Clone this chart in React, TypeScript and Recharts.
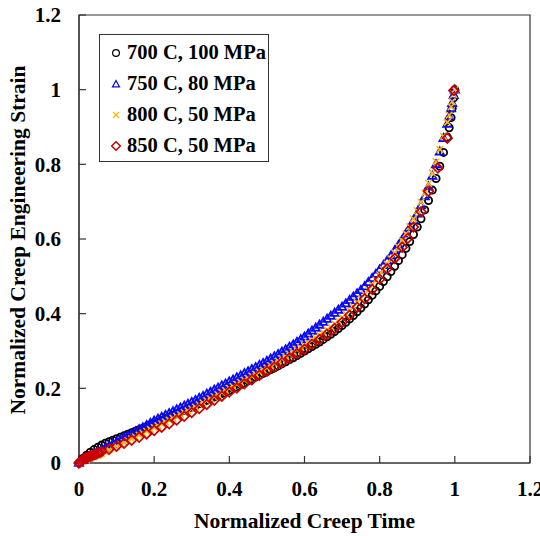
import React from 'react';
import { ScatterChart, Scatter, XAxis, YAxis, Legend, ReferenceArea } from 'recharts';

// Normalized creep time grid shared by the densely sampled series
const TIME_FINE = [
  0.00, 0.01, 0.02, 0.03, 0.04, 0.05, 0.06, 0.07, 0.08, 0.09,
  0.10, 0.11, 0.12, 0.13, 0.14, 0.15, 0.16, 0.17, 0.18, 0.19,
  0.20, 0.21, 0.22, 0.23, 0.24, 0.25, 0.26, 0.27, 0.28, 0.29,
  0.30, 0.31, 0.32, 0.33, 0.34, 0.35, 0.36, 0.37, 0.38, 0.39,
  0.40, 0.41, 0.42, 0.43, 0.44, 0.45, 0.46, 0.47, 0.48, 0.49,
  0.50, 0.51, 0.52, 0.53, 0.54, 0.55, 0.56, 0.57, 0.58, 0.59,
  0.60, 0.61, 0.62, 0.63, 0.64, 0.65, 0.66, 0.67, 0.68, 0.69,
  0.70, 0.71, 0.72, 0.73, 0.74, 0.75, 0.76, 0.77, 0.78, 0.79,
  0.80, 0.81, 0.82, 0.83, 0.84, 0.85, 0.86, 0.87, 0.88, 0.89,
  0.90, 0.91, 0.92, 0.93, 0.94, 0.95, 0.96, 0.97, 0.98, 0.99,
  1.00,
];
const TIME_TAIL = [0.985, 0.993, 0.997];

// 700 C, 100 MPa
const STRAIN_700 = [
  0.000, 0.012, 0.021, 0.029, 0.036, 0.042, 0.048, 0.053, 0.057, 0.061,
  0.065, 0.069, 0.073, 0.077, 0.081, 0.085, 0.089, 0.093, 0.097, 0.101,
  0.105, 0.110, 0.114, 0.119, 0.123, 0.128, 0.132, 0.137, 0.141, 0.146,
  0.150, 0.154, 0.159, 0.163, 0.168, 0.172, 0.177, 0.181, 0.186, 0.190,
  0.195, 0.200, 0.205, 0.210, 0.215, 0.220, 0.225, 0.230, 0.235, 0.240,
  0.245, 0.250, 0.255, 0.260, 0.266, 0.271, 0.277, 0.282, 0.288, 0.294,
  0.300, 0.306, 0.312, 0.318, 0.324, 0.331, 0.338, 0.345, 0.352, 0.360,
  0.368, 0.377, 0.386, 0.395, 0.405, 0.415, 0.426, 0.437, 0.449, 0.461,
  0.473, 0.486, 0.499, 0.513, 0.527, 0.542, 0.558, 0.575, 0.593, 0.612,
  0.632, 0.654, 0.678, 0.703, 0.731, 0.762, 0.795, 0.832, 0.873, 0.925,
  1.000,
];
const STRAIN_700_TAIL = [0.898, 0.950, 0.978];

// 750 C, 80 MPa
const STRAIN_750 = [
  0.000, 0.008, 0.014, 0.019, 0.025, 0.030, 0.035, 0.040, 0.045, 0.050,
  0.056, 0.061, 0.067, 0.072, 0.078, 0.084, 0.090, 0.095, 0.101, 0.107,
  0.113, 0.118, 0.123, 0.128, 0.133, 0.138, 0.143, 0.148, 0.153, 0.158,
  0.163, 0.168, 0.174, 0.179, 0.185, 0.190, 0.196, 0.201, 0.207, 0.212,
  0.218, 0.223, 0.229, 0.234, 0.240, 0.245, 0.251, 0.256, 0.262, 0.267,
  0.273, 0.279, 0.285, 0.291, 0.298, 0.304, 0.311, 0.317, 0.324, 0.331,
  0.338, 0.346, 0.354, 0.362, 0.370, 0.378, 0.386, 0.394, 0.402, 0.410,
  0.418, 0.427, 0.436, 0.445, 0.454, 0.463, 0.473, 0.484, 0.495, 0.506,
  0.518, 0.530, 0.542, 0.555, 0.569, 0.583, 0.598, 0.614, 0.631, 0.649,
  0.668, 0.690, 0.714, 0.740, 0.769, 0.800, 0.834, 0.870, 0.908, 0.950,
  1.000,
];
const STRAIN_750_TAIL = [0.928, 0.964, 0.985];

// 800 C, 50 MPa
const STRAIN_800 = [
  0.000, 0.004, 0.008, 0.012, 0.016, 0.020, 0.025, 0.030, 0.035, 0.040,
  0.045, 0.050, 0.055, 0.060, 0.065, 0.070, 0.075, 0.080, 0.085, 0.090,
  0.095, 0.100, 0.105, 0.110, 0.115, 0.120, 0.125, 0.130, 0.135, 0.140,
  0.145, 0.150, 0.156, 0.161, 0.167, 0.172, 0.178, 0.183, 0.189, 0.194,
  0.200, 0.205, 0.211, 0.216, 0.222, 0.227, 0.233, 0.238, 0.244, 0.249,
  0.255, 0.261, 0.267, 0.273, 0.279, 0.285, 0.291, 0.297, 0.303, 0.309,
  0.315, 0.322, 0.329, 0.336, 0.343, 0.350, 0.357, 0.365, 0.373, 0.381,
  0.390, 0.399, 0.409, 0.419, 0.430, 0.441, 0.452, 0.464, 0.477, 0.490,
  0.504, 0.518, 0.532, 0.547, 0.563, 0.579, 0.596, 0.614, 0.633, 0.654,
  0.676, 0.699, 0.723, 0.749, 0.777, 0.807, 0.840, 0.875, 0.913, 0.954,
  1.000,
];
const STRAIN_800_TAIL = [0.932, 0.968, 0.987];

// 850 C, 50 MPa (sparser sampling)
const TIME_850 = [
  0.000, 0.004, 0.008, 0.012, 0.016, 0.020, 0.025, 0.030, 0.035, 0.040,
  0.045, 0.050, 0.055, 0.060, 0.080, 0.100, 0.120, 0.140, 0.160, 0.180,
  0.200, 0.220, 0.240, 0.260, 0.280, 0.300, 0.320, 0.340, 0.360, 0.380,
  0.400, 0.420, 0.440, 0.460, 0.480, 0.500, 0.520, 0.540, 0.560, 0.580,
  0.600, 0.620, 0.640, 0.660, 0.680, 0.700, 0.720, 0.740, 0.760, 0.780,
  0.800, 0.820, 0.840, 0.860, 0.875, 0.890, 0.910, 0.930, 0.955, 0.980,
  0.997,
];
const STRAIN_850 = [
  0.000, 0.004, 0.007, 0.010, 0.012, 0.014, 0.016, 0.018, 0.020, 0.022,
  0.024, 0.026, 0.028, 0.030, 0.037, 0.045, 0.053, 0.061, 0.069, 0.078,
  0.087, 0.096, 0.105, 0.115, 0.125, 0.135, 0.146, 0.157, 0.168, 0.179,
  0.190, 0.201, 0.212, 0.223, 0.235, 0.246, 0.257, 0.269, 0.281, 0.293,
  0.305, 0.318, 0.331, 0.345, 0.360, 0.377, 0.396, 0.417, 0.440, 0.465,
  0.492, 0.520, 0.548, 0.578, 0.602, 0.632, 0.673, 0.728, 0.790, 0.870,
  0.998,
];

const SERIES_NAMES = ['700 C, 100 MPa', '750 C, 80 MPa', '800 C, 50 MPa', '850 C, 50 MPa'];
const AXIS_TICKS = [0, 0.2, 0.4, 0.6, 0.8, 1, 1.2];
const AXIS_TICK_LABELS = ['0', '0.2', '0.4', '0.6', '0.8', '1', '1.2'];
const X_TITLE = 'Normalized Creep Time';
const Y_TITLE = 'Normalized Creep Engineering Strain';

const COLORS = { c700: '#000000', c750: '#0a0af5', c800: '#ffb800', c850: '#cc0000' };
const FONT = '"Liberation Serif", "Times New Roman", Times, serif';

const build = (ts: number[], ss: number[], tt: number[] = [], st: number[] = []) => {
  const rows = ts.map((t, i) => ({ t, s: ss[i] }));
  tt.forEach((t, i) => rows.push({ t, s: st[i] }));
  return rows;
};

const data700 = build(TIME_FINE, STRAIN_700, TIME_TAIL, STRAIN_700_TAIL);
const data750 = build(TIME_FINE, STRAIN_750, TIME_TAIL, STRAIN_750_TAIL);
const data800 = build(TIME_FINE, STRAIN_800, TIME_TAIL, STRAIN_800_TAIL);
const data850 = build(TIME_850, STRAIN_850);

const CircleMark = (p: any) => (
  <circle cx={p.cx} cy={p.cy} r={3.6} fill="none" stroke={COLORS.c700} strokeWidth={1.8} />
);
const TriangleMark = (p: any) => (
  <polygon
    points={`${p.cx},${p.cy - 4.3} ${p.cx - 4.1},${p.cy + 2.9} ${p.cx + 4.1},${p.cy + 2.9}`}
    fill="none"
    stroke={COLORS.c750}
    strokeWidth={1.8}
  />
);
const XMark = (p: any) => (
  <path
    d={`M${p.cx - 3.3},${p.cy - 3.3}L${p.cx + 3.3},${p.cy + 3.3}M${p.cx - 3.3},${p.cy + 3.3}L${p.cx + 3.3},${p.cy - 3.3}`}
    fill="none"
    stroke={COLORS.c800}
    strokeWidth={1.5}
  />
);
const DiamondMark = (p: any) => (
  <path
    d={`M${p.cx},${p.cy - 4.8}L${p.cx + 4.8},${p.cy}L${p.cx},${p.cy + 4.8}L${p.cx - 4.8},${p.cy}Z`}
    fill="none"
    stroke={COLORS.c850}
    strokeWidth={1.7}
  />
);

const LegendIcon = ({ kind }: { kind: number }) => {
  const c = 7;
  return (
    <svg width={14} height={14} style={{ display: 'block' }}>
      {kind === 0 && <circle cx={c} cy={c} r={3.4} fill="none" stroke={COLORS.c700} strokeWidth={1.2} />}
      {kind === 1 && (
        <polygon
          points={`${c},${c - 3.5} ${c - 3.4},${c + 2.8} ${c + 3.4},${c + 2.8}`}
          fill="none"
          stroke={COLORS.c750}
          strokeWidth={1.3}
        />
      )}
      {kind === 2 && (
        <path
          d={`M${c - 3},${c - 3}L${c + 3},${c + 3}M${c - 3},${c + 3}L${c + 3},${c - 3}`}
          fill="none"
          stroke={COLORS.c800}
          strokeWidth={1.3}
        />
      )}
      {kind === 3 && (
        <path
          d={`M${c},${c - 4.3}L${c + 4.3},${c}L${c},${c + 4.3}L${c - 4.3},${c}Z`}
          fill="none"
          stroke={COLORS.c850}
          strokeWidth={1.5}
        />
      )}
    </svg>
  );
};

const LegendBox = () => (
  <div
    style={{
      border: '1.5px solid #333',
      background: '#fff',
      padding: '2px 0 2px 9px',
      boxSizing: 'border-box',
      width: 170,
      height: 128,
    }}
  >
    {SERIES_NAMES.map((name, i) => (
      <div
        key={name}
        style={{
          display: 'flex',
          alignItems: 'center',
          height: 31,
          fontFamily: FONT,
          fontWeight: 'bold',
          fontSize: 20.5,
          color: '#000',
          whiteSpace: 'nowrap',
        }}
      >
        <LegendIcon kind={i} />
        <span style={{ marginLeft: 4 }}>{name}</span>
      </div>
    ))}
  </div>
);

const tickStyle = { fontFamily: FONT, fontWeight: 'bold', fontSize: 21, fill: '#000' };

export default function App() {
  return (
    <div style={{ position: 'absolute', left: 0, top: 0, width: 540, height: 536, background: '#fff' }}>
      <ScatterChart width={540} height={536} margin={{ top: 15, right: 10, bottom: 13, left: 0 }}>
        <XAxis
          type="number"
          dataKey="t"
          domain={[0, 1.2]}
          ticks={AXIS_TICKS}
          tickFormatter={(v: number) => AXIS_TICK_LABELS[AXIS_TICKS.indexOf(v)] ?? String(v)}
          height={60}
          tickSize={-7}
          tickMargin={25}
          axisLine={{ stroke: '#333', strokeWidth: 1.2 }}
          tickLine={{ stroke: '#333', strokeWidth: 1.2 }}
          tick={tickStyle}
          interval={0}
          label={{
            content: (props: any) => {
              const vb = props.viewBox || {};
              const cx = (vb.x ?? 78) + (vb.width ?? 452) / 2;
              return (
                <text x={cx} y={528} textAnchor="middle" style={{ fontFamily: FONT, fontWeight: 'bold', fontSize: 21.5, fill: '#000' }}>
                  {X_TITLE}
                </text>
              );
            },
          }}
        />
        <YAxis
          type="number"
          dataKey="s"
          domain={[0, 1.2]}
          ticks={AXIS_TICKS}
          tickFormatter={(v: number) => AXIS_TICK_LABELS[AXIS_TICKS.indexOf(v)] ?? String(v)}
          width={79}
          tickSize={-7}
          tickMargin={25}
          axisLine={{ stroke: '#333', strokeWidth: 1.2 }}
          tickLine={{ stroke: '#333', strokeWidth: 1.2 }}
          tick={tickStyle}
          interval={0}
          label={{
            content: () => (
              <text
                x={25}
                y={240}
                transform="rotate(-90 25 240)"
                textAnchor="middle"
                style={{ fontFamily: FONT, fontWeight: 'bold', fontSize: 21.5, fill: '#000' }}
              >
                {Y_TITLE}
              </text>
            ),
          }}
        />
        <ReferenceArea x1={0} x2={1.2} y1={0} y2={1.2} fill="none" stroke="#333" strokeWidth={1.2} ifOverflow="visible" />
        <Scatter name={SERIES_NAMES[0]} data={data700} shape={CircleMark} isAnimationActive={false} />
        <Scatter name={SERIES_NAMES[1]} data={data750} shape={TriangleMark} isAnimationActive={false} />
        <Scatter name={SERIES_NAMES[2]} data={data800} shape={XMark} isAnimationActive={false} />
        <Scatter name={SERIES_NAMES[3]} data={data850} shape={DiamondMark} isAnimationActive={false} />
        <Legend
          layout="vertical"
          align="center"
          verticalAlign="middle"
          content={() => <LegendBox />}
          wrapperStyle={{ left: 99, top: 34, width: 170, height: 128 }}
        />
      </ScatterChart>
    </div>
  );
}
